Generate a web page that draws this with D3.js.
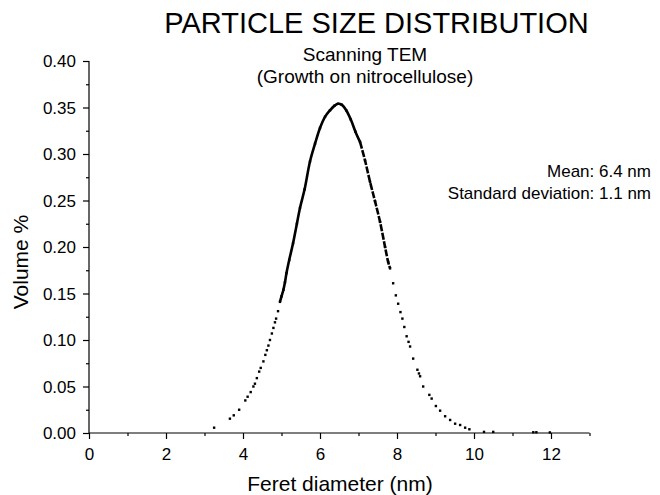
<!DOCTYPE html>
<html><head><meta charset="utf-8">
<script src="https://cdn.jsdelivr.net/npm/d3@7/dist/d3.min.js"></script>
<style>body{margin:0;background:#fff}svg{display:block}text{font-family:"Liberation Sans",Arial,sans-serif;fill:#000}</style>
</head><body><svg id="c" width="660" height="495"></svg>
<script>
// Data
const diameter = [3.25,3.66,3.76,3.90,4.06,4.12,4.20,4.27,4.31,4.36,4.42,4.46,4.53,4.58,4.62,4.66,4.70,4.75,4.79,4.83,4.86,4.91,4.96,5.00,5.05,5.09,5.13,5.20,5.30,5.40,5.48,5.60,5.74,5.87,6.00,6.13,6.26,6.38,6.47,6.56,6.68,6.80,6.92,7.04,7.17,7.30,7.43,7.56,7.69,7.77,7.82,7.90,7.97,8.03,8.09,8.14,8.19,8.25,8.30,8.34,8.42,8.53,8.57,8.60,8.68,8.84,8.90,9.01,9.12,9.25,9.38,9.51,9.64,9.77,9.88,10.26,10.50,11.54,11.62,11.97];
const volume   = [0.0057,0.0154,0.019,0.025,0.035,0.039,0.044,0.050,0.053,0.059,0.066,0.070,0.077,0.084,0.089,0.094,0.100,0.107,0.113,0.119,0.123,0.131,0.141,0.147,0.154,0.162,0.172,0.186,0.204,0.225,0.242,0.262,0.292,0.311,0.328,0.340,0.347,0.352,0.354,0.353,0.347,0.337,0.324,0.313,0.293,0.270,0.249,0.227,0.200,0.184,0.177,0.161,0.148,0.139,0.130,0.123,0.114,0.104,0.098,0.093,0.080,0.068,0.064,0.061,0.050,0.041,0.037,0.029,0.024,0.018,0.014,0.010,0.0086,0.0057,0.004,0.0012,0.0012,0.0008,0.0008,0.0006];
const xTicks = [0,2,4,6,8,10,12];
const yTicks = [0.00,0.05,0.10,0.15,0.20,0.25,0.30,0.35,0.40];
const titleText = "PARTICLE SIZE DISTRIBUTION";
const subtitleLines = ["Scanning TEM","(Growth on nitrocellulose)"];
const statLines = ["Mean: 6.4 nm","Standard deviation: 1.1 nm"];
const xLabel = "Feret diameter (nm)";
const yLabel = "Volume %";

const svg = d3.select("#c");
const x = d3.scaleLinear().domain([0,13]).range([89,589.5]);
const y = d3.scaleLinear().domain([0,0.4]).range([433,61]);

// axes
const xAxis = d3.axisBottom(x).tickValues(xTicks).tickFormat(d3.format("d")).tickSize(6).tickPadding(9);
const xMinor = d3.axisBottom(x).tickValues(d3.range(1,14,2)).tickFormat("").tickSize(3);
const yAxis = d3.axisLeft(y).tickValues(yTicks).tickFormat(d3.format(".2f")).tickSize(6).tickPadding(7);
const yMinor = d3.axisLeft(y).tickValues(d3.range(0.025,0.4,0.05)).tickFormat("").tickSize(3);

function style(g){
  g.select(".domain").attr("stroke","#000").attr("stroke-width",1.2);
  g.selectAll(".tick line").attr("stroke","#000").attr("stroke-width",1.2);
  g.selectAll(".tick text").attr("font-size",17).attr("font-family","Liberation Sans, Arial, sans-serif").attr("fill","#000");
}
const gx = svg.append("g").attr("transform","translate(0,433)").call(xAxis).call(style);
gx.select(".domain").attr("d","M89,0H589.5");
const gxm = svg.append("g").attr("transform","translate(0,433)").call(xMinor).call(style);
gxm.select(".domain").remove();
const gy = svg.append("g").attr("transform","translate(89,0)").call(yAxis).call(style);
gy.select(".domain").attr("d","M0,61V433");
const gym = svg.append("g").attr("transform","translate(89,0)").call(yMinor).call(style);
gym.select(".domain").remove();
gy.selectAll(".tick text").attr("dy","0.35em");

// data
const pts = diameter.map((d,i)=>({x:d,y:volume[i]}));
const line = d3.line().x(d=>x(d.x)).y(d=>y(d.y)).curve(d3.curveCatmullRom);
svg.append("path").datum(pts.filter(p=>p.x>=4.96&&p.x<=7.04))
  .attr("d",line).attr("fill","none").attr("stroke","#000").attr("stroke-width",2.6);
svg.append("path").datum(pts.filter(p=>p.x>=7.04&&p.x<=7.82))
  .attr("d",line).attr("fill","none").attr("stroke","#000").attr("stroke-width",2.6).attr("stroke-dasharray","7,1.5");
svg.append("g").selectAll("rect").data(pts).join("rect")
  .attr("x",d=>x(d.x)-1.2).attr("y",d=>y(d.y)-1.2).attr("width",2.4).attr("height",2.4).attr("fill","#000");

// texts
svg.append("text").attr("x",376.5).attr("y",33).attr("text-anchor","middle").attr("font-size",29).text(titleText);
svg.selectAll(".sub").data(subtitleLines).join("text").attr("class","sub")
  .attr("x",365).attr("y",(d,i)=>61+i*22).attr("text-anchor","middle").attr("font-size",19).text(d=>d);
svg.selectAll(".stat").data(statLines).join("text").attr("class","stat")
  .attr("x",651).attr("y",(d,i)=>177+i*21.5).attr("text-anchor","end").attr("font-size",17).text(d=>d);
svg.append("text").attr("x",340).attr("y",491).attr("text-anchor","middle").attr("font-size",21).text(xLabel);
svg.append("text").attr("transform","translate(28,262) rotate(-90)").attr("text-anchor","middle").attr("font-size",21).text(yLabel);
</script></body></html>
